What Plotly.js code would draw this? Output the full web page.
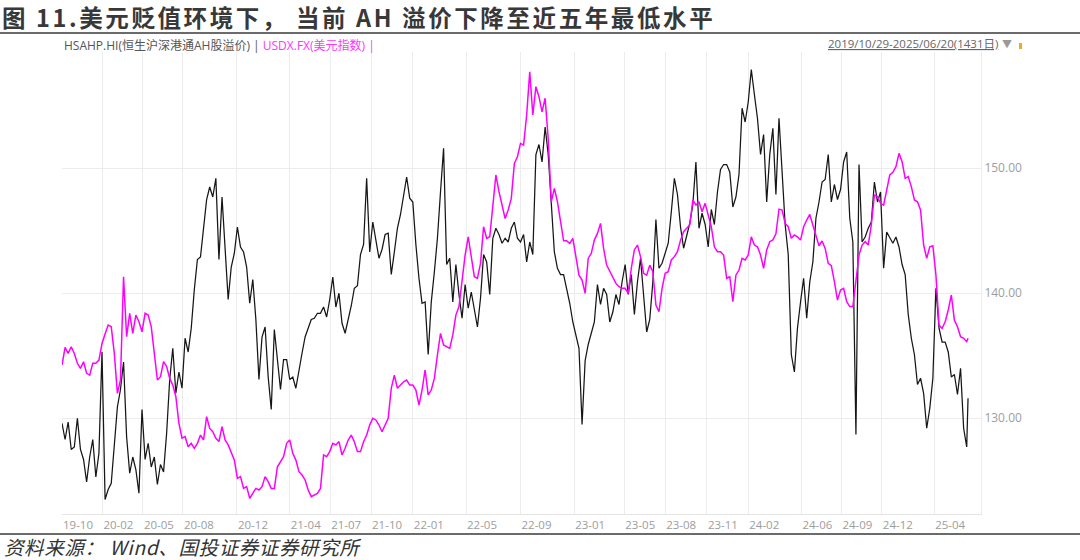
<!DOCTYPE html>
<html>
<head>
<meta charset="utf-8">
<script src="https://cdn.plot.ly/plotly-3.0.1.min.js"></script>
<style>
    html, body { margin: 0; padding: 0; background: #fff; }
    #chart { width: 1080px; height: 560px; }
</style>
</head>
<body>
<div id="chart"></div>
<script>
/* ============================================
   Dados (leitura semanal do gráfico Wind)
   ============================================ */
const startDate = '2019-10-29';
const lastDate = '2025-06-20';

// HSAHP.HI 恒生沪深港通AH股溢价 (eixo da direita)
const ahPremium = [
    129.6, 128.3, 129.7, 127.5, 127.7, 130.0, 127.5, 126.7, 124.9, 126.9,
    128.3, 125.3, 127.2, 135.3, 123.5, 124.3, 124.8, 128.0, 130.9, 132.3,
    134.5, 128.5, 125.6, 126.9, 125.9, 124.0, 130.7, 126.7, 128.0, 126.1,
    126.9, 124.7, 126.3, 125.7, 128.8, 133.1, 135.6, 132.0, 133.7, 132.4,
    136.4, 135.3, 137.2, 140.3, 142.7, 142.9, 145.1, 147.5, 148.5, 147.7,
    149.2, 142.7, 147.7, 143.7, 139.5, 142.1, 143.2, 145.3, 143.7, 143.3,
    142.1, 139.2, 141.1, 137.9, 133.1, 136.5, 137.3, 133.3, 130.7, 137.1,
    134.7, 132.3, 134.7, 134.7, 133.1, 133.3, 132.4, 133.9, 135.2, 136.5,
    137.3, 137.9, 138.0, 138.4, 138.4, 138.9, 138.1, 139.5, 141.3, 138.9,
    140.0, 137.6, 136.8, 137.9, 139.0, 140.4, 140.6, 143.1, 143.9, 149.2,
    143.3, 145.7, 144.1, 142.8, 143.5, 144.7, 144.8, 141.5, 143.3, 145.2,
    146.3, 147.9, 149.3, 147.6, 147.3, 143.9, 141.2, 139.2, 139.3, 135.1,
    139.3, 141.7, 144.4, 148.1, 151.6, 142.3, 142.8, 139.3, 142.3, 139.9,
    138.0, 140.7, 138.8, 140.1, 138.8, 137.3, 139.6, 143.1, 142.5, 139.9,
    144.4, 145.2, 144.7, 144.0, 144.4, 144.1, 145.2, 145.7, 144.4, 144.1,
    144.7, 142.5, 144.1, 143.1, 151.1, 151.9, 150.5, 153.3, 151.1, 147.1,
    143.3, 142.0, 141.5, 141.5, 140.3, 139.2, 137.7, 136.7, 135.6, 129.5,
    134.6, 135.9, 136.9, 137.7, 140.7, 139.1, 140.4, 139.9, 137.7, 138.5,
    139.9, 139.1, 140.9, 142.3, 139.9, 141.5, 138.3, 140.9, 142.8, 139.6,
    136.9, 137.9, 140.9, 145.9, 142.0, 142.4, 143.3, 144.0, 146.5, 149.2,
    147.9, 145.3, 143.6, 144.5, 145.6, 147.1, 150.5, 145.2, 146.4, 145.5,
    143.7, 146.7, 145.5, 148.1, 149.9, 150.3, 150.3, 149.7, 146.9, 147.7,
    149.5, 154.8, 153.7, 155.3, 157.9, 155.9, 154.0, 151.1, 152.7, 147.3,
    151.1, 153.2, 147.9, 154.0, 149.5, 145.5, 143.1, 135.1, 133.7, 137.2,
    139.3, 141.2, 138.0, 140.9, 142.5, 146.0, 147.3, 148.9, 149.1, 151.1,
    147.3, 148.7, 147.5, 148.3, 150.5, 151.3, 146.0, 144.1, 128.7, 150.3,
    144.1, 144.5, 145.2, 145.7, 148.9, 147.3, 148.1, 142.0, 144.9, 144.5,
    144.0, 144.5, 143.7, 142.3, 141.5, 138.3, 136.4, 135.1, 132.7, 133.2,
    132.0, 129.2, 130.8, 133.2, 140.4, 137.2, 136.1, 136.1, 135.3, 133.3,
    133.5, 131.9, 134.0, 129.2, 127.7, 131.6
];

// USDX.FX 美元指数 (eixo oculto à esquerda)
const usdIndex = [
    97.24, 98.24, 97.90, 98.28, 97.90, 97.34, 97.05, 97.43, 96.77, 96.67,
    97.34, 97.34, 97.52, 98.47, 99.00, 99.51, 99.42, 97.90, 95.63, 96.40,
    102.26, 98.85, 100.18, 99.04, 100.08, 99.70, 99.13, 100.18, 100.08, 99.42,
    97.90, 96.39, 96.58, 97.43, 97.15, 96.48, 96.10, 95.44, 93.93, 93.08,
    93.17, 92.60, 92.79, 92.51, 92.79, 93.26, 92.98, 94.31, 93.64, 93.45,
    93.08, 92.89, 93.74, 92.98, 92.70, 92.32, 91.84, 90.80, 90.90, 90.23,
    90.33, 89.67, 89.95, 90.23, 90.14, 90.33, 90.90, 90.61, 90.23, 90.23,
    91.46, 91.75, 92.03, 92.79, 92.98, 92.22, 91.84, 91.18, 90.99, 90.71,
    90.14, 89.76, 89.85, 89.95, 90.23, 92.13, 92.03, 92.32, 92.79, 92.70,
    92.89, 92.13, 92.51, 92.98, 93.26, 92.88, 92.32, 92.32, 92.88, 93.26,
    93.83, 94.21, 94.12, 93.83, 93.45, 93.83, 94.21, 95.92, 96.67, 95.92,
    96.10, 96.29, 96.39, 96.10, 96.10, 95.82, 94.97, 95.82, 96.96, 95.54,
    95.82, 96.48, 97.81, 99.04, 98.38, 98.28, 98.19, 98.95, 100.08, 100.56,
    101.98, 103.49, 104.53, 103.49, 102.26, 102.17, 103.02, 105.10, 104.44, 104.53,
    106.52, 108.04, 107.09, 106.33, 105.57, 106.05, 106.71, 108.70, 109.08, 109.84,
    109.74, 111.45, 113.91, 111.45, 113.06, 112.49, 111.63, 112.40, 110.10, 106.52,
    107.28, 106.52, 105.29, 104.30, 104.30, 104.15, 104.44, 103.49, 102.35, 102.07,
    101.31, 103.30, 103.59, 104.34, 104.72, 105.29, 103.87, 102.92, 102.54, 102.26,
    101.88, 101.69, 101.60, 101.60, 101.31, 102.73, 103.78, 104.06, 103.40, 102.45,
    102.35, 102.92, 102.54, 100.65, 100.27, 101.60, 102.45, 102.54, 103.21, 103.40,
    103.68, 104.34, 104.82, 105.01, 105.20, 106.62, 106.33, 106.52, 105.95, 106.43,
    105.76, 105.10, 103.96, 103.68, 103.68, 103.49, 102.17, 102.26, 100.84, 102.35,
    102.64, 103.30, 103.21, 103.49, 104.53, 104.06, 103.96, 103.49, 102.73, 103.78,
    104.25, 104.35, 104.70, 106.10, 106.05, 105.29, 105.10, 104.44, 104.63, 104.53,
    104.34, 105.10, 105.48, 105.80, 105.20, 104.53, 104.02, 104.29, 103.87, 103.02,
    102.89, 101.98, 100.93, 101.50, 101.60, 100.84, 100.56, 100.56, 101.98, 103.49,
    104.06, 104.25, 104.06, 105.20, 106.90, 106.81, 106.43, 106.33, 107.18, 108.04,
    108.19, 108.51, 109.27, 108.79, 107.85, 107.95, 107.38, 106.62, 106.52, 106.05,
    104.06, 103.30, 103.96, 104.02, 102.35, 99.51, 99.32, 99.70, 100.37, 101.22,
    99.79, 99.42, 98.85, 98.76, 98.57, 98.76
];

// Rótulos do eixo X (posição das linhas de grade)
const tickDates = [
    '2019-10-29', '2020-01-29', '2020-04-30', '2020-07-30', '2020-11-30',
    '2021-03-30', '2021-06-30', '2021-10-01', '2022-01-04', '2022-05-05',
    '2022-09-06', '2023-01-06', '2023-04-30', '2023-08-01', '2023-11-04',
    '2024-02-06', '2024-06-06', '2024-09-05', '2024-12-06', '2025-04-04'
];
const tickLabels = [
    '19-10', '20-02', '20-05', '20-08', '20-12', '21-04', '21-07', '21-10', '22-01', '22-05',
    '22-09', '23-01', '23-05', '23-08', '23-11', '24-02', '24-06', '24-09', '24-12', '25-04'
];

/* ============================================
   Utilitários
   ============================================ */
// datas semanais a partir de startDate, com o último dia real no fim
function buildDates(count) {
    const out = [];
    const t0 = Date.parse(startDate + 'T00:00:00Z');
    for (let i = 0; i < count - 1; i++) {
        out.push(new Date(t0 + i * 7 * 86400000).toISOString().slice(0, 10));
    }
    out.push(lastDate);
    return out;
}

// pixel -> coordenadas "paper" da área do gráfico
const plotBox = { left: 62, right: 981, top: 52, bottom: 514 };
function px(x) { return (x - plotBox.left) / (plotBox.right - plotBox.left); }
function py(y) { return (plotBox.bottom - y) / (plotBox.bottom - plotBox.top); }

/* ============================================
   Gráfico (Plotly)
   ============================================ */
const dates = buildDates(ahPremium.length);
const latin = '"Open Sans", "Noto Sans CJK SC", sans-serif';
const cjk = '"Noto Sans CJK SC", sans-serif';
const gridColor = '#ececec';

const traces = [
    {
        type: 'scatter', mode: 'lines',
        x: dates, y: ahPremium, yaxis: 'y',
        line: { color: '#161616', width: 1.25 },
        name: 'HSAHP.HI', hoverinfo: 'skip'
    },
    {
        type: 'scatter', mode: 'lines',
        x: dates, y: usdIndex, yaxis: 'y2',
        line: { color: '#ff00ff', width: 1.5 },
        name: 'USDX.FX', hoverinfo: 'skip'
    }
];

const layout = {
    width: 1080,
    height: 560,
    margin: { l: plotBox.left, r: 1080 - plotBox.right, t: plotBox.top, b: 560 - plotBox.bottom },
    paper_bgcolor: '#ffffff',
    plot_bgcolor: '#ffffff',
    showlegend: false,
    title: {
        text: '<span style="letter-spacing:2.6px"><b>图 11.美元贬值环境下， 当前 AH 溢价下降至近五年最低水平</b></span>',
        font: { family: cjk, size: 23.5, color: '#383838' },
        x: 2 / 1080, xanchor: 'left', xref: 'container',
        y: 1 - 18.5 / 560, yanchor: 'middle', yref: 'container'
    },
    xaxis: {
        type: 'date',
        range: [startDate, '2025-07-19 12:00'],
        tickmode: 'array',
        tickvals: tickDates,
        ticktext: tickLabels,
        ticks: '',
        ticklabelshift: 16,
        tickfont: { family: latin, size: 11.5, color: '#9d9d9d' },
        showgrid: true,
        gridcolor: gridColor,
        gridwidth: 1,
        showline: true,
        linecolor: '#e4e4e4',
        zeroline: false,
        fixedrange: true
    },
    yaxis: {
        side: 'right',
        range: [122.34, 159.30],
        tickmode: 'array',
        tickvals: [130, 140, 150],
        tickformat: '.2f',
        ticks: '',
        tickfont: { family: latin, size: 12, color: '#9d9d9d' },
        showgrid: true,
        gridcolor: gridColor,
        showline: true,
        linecolor: gridColor,
        zeroline: false,
        fixedrange: true
    },
    yaxis2: {
        overlaying: 'y',
        side: 'left',
        range: [88.775, 115.03],
        visible: false,
        showgrid: false,
        zeroline: false,
        fixedrange: true
    },
    shapes: [
        // linha sob o título
        { type: 'line', xref: 'paper', yref: 'paper', x0: px(0), x1: px(1080), y0: py(33), y1: py(33),
          line: { color: '#6b6b6b', width: 2 } },
        // linha acima da fonte
        { type: 'line', xref: 'paper', yref: 'paper', x0: px(0), x1: px(1080), y0: py(534), y1: py(534),
          line: { color: '#6b6b6b', width: 2 } },
        // pequena marca laranja
        { type: 'rect', xref: 'paper', yref: 'paper', x0: px(1019), x1: px(1022), y0: py(49), y1: py(43),
          fillcolor: '#f5a623', line: { width: 0 } }
    ],
    annotations: [
        {
            xref: 'paper', yref: 'paper', x: px(62), y: py(45),
            xanchor: 'left', yanchor: 'middle', showarrow: false,
            text: '<span style="color:#555555">HSAHP.HI(恒生沪深港通AH股溢价) | </span>' +
                  '<span style="color:#ff33ff">USDX.FX(美元指数) |</span>',
            font: { family: latin, size: 12 }
        },
        {
            xref: 'paper', yref: 'paper', x: px(1000), y: py(44),
            xanchor: 'right', yanchor: 'middle', showarrow: false,
            text: '<u>2019/10/29-2025/06/20(1431日)</u>',
            font: { family: latin, size: 11.5, color: '#666666' }
        },
        {
            xref: 'paper', yref: 'paper', x: px(1007), y: py(44),
            xanchor: 'center', yanchor: 'middle', showarrow: false,
            text: '▼',
            font: { family: latin, size: 10, color: '#9a9a9a' }
        },
        {
            xref: 'paper', yref: 'paper', x: px(2), y: py(546),
            xanchor: 'left', yanchor: 'middle', showarrow: false,
            text: '<span style="letter-spacing:0.6px"><i>资料来源： Wind、国投证券证券研究所</i></span>',
            font: { family: cjk, size: 19.5, color: '#333333' }
        }
    ]
};

Plotly.newPlot('chart', traces, layout, { displayModeBar: false, staticPlot: true });
</script>
</body>
</html>
